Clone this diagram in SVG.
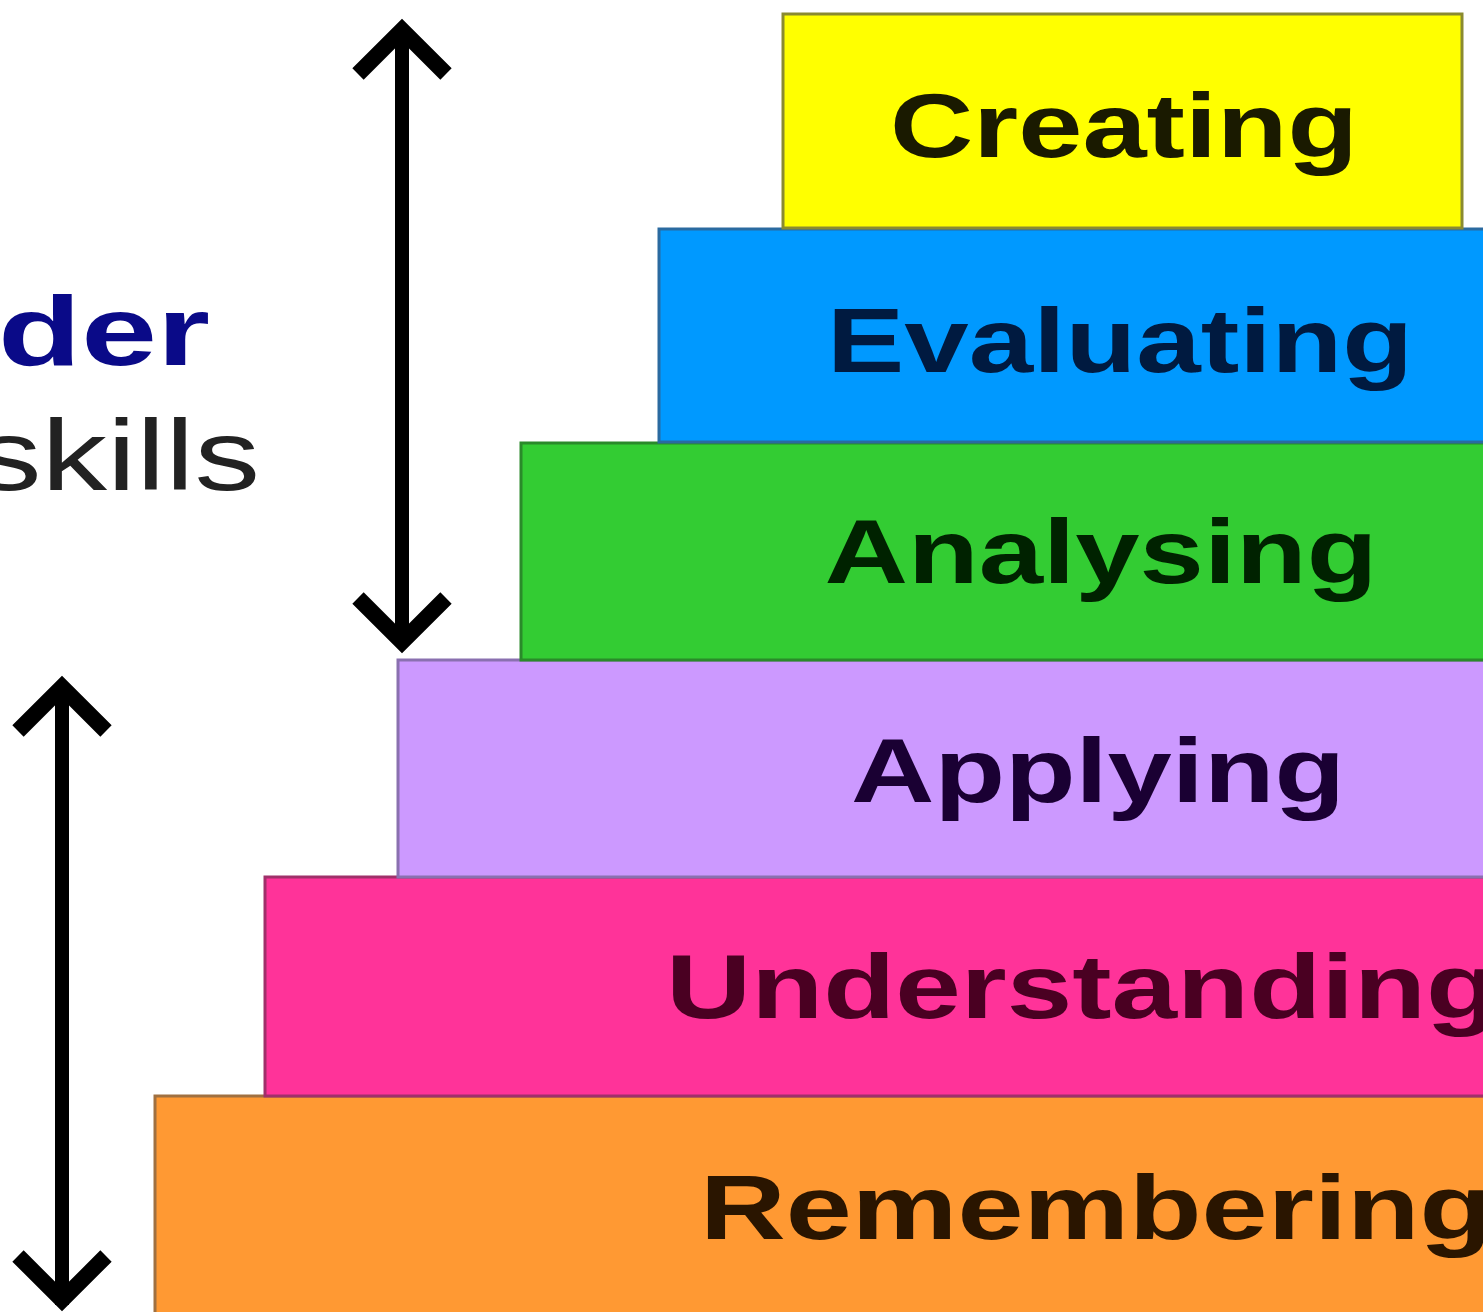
<svg xmlns="http://www.w3.org/2000/svg" width="1483" height="1312" viewBox="0 0 1483 1312">
  <style>
    .step { stroke-width: 3; }
    .lbl { font-family: "Liberation Sans", Arial, sans-serif; font-weight: bold; font-size: 91px; }
    .arrow { fill: none; stroke: #000; stroke-width: 14; }
    .head { fill: none; stroke: #000; stroke-width: 16; stroke-linejoin: miter; stroke-miterlimit: 10; }
  </style>
  <rect width="1483" height="1312" fill="#ffffff"/>
  <g id="side-text">
    <text x="-2" y="365" font-family="Liberation Sans, Arial, sans-serif" font-weight="bold" font-size="98" fill="#0a0a88" textLength="212" lengthAdjust="spacingAndGlyphs">der</text>
    <text x="-24" y="490" font-family="Liberation Sans, Arial, sans-serif" font-size="101" fill="#222222" textLength="284" lengthAdjust="spacingAndGlyphs">skills</text>
  </g>
  <g id="remembering">
    <rect class="step" x="155" y="1096" width="1340" height="230" fill="#FF9933" stroke="#a07040"/>
    <text class="lbl" x="700" y="1239" fill="#2a1500" textLength="792" lengthAdjust="spacingAndGlyphs">Remembering</text>
  </g>
  <g id="understanding">
    <rect class="step" x="265" y="877" width="1230" height="219" fill="#FF3399" stroke="#a0306a"/>
    <text class="lbl" x="666" y="1018" fill="#4a0022" textLength="832" lengthAdjust="spacingAndGlyphs">Understanding</text>
  </g>
  <g id="applying">
    <rect class="step" x="398" y="660" width="1097" height="217" fill="#CC99FF" stroke="#8a70b0"/>
    <text class="lbl" x="1098" y="802" text-anchor="middle" fill="#1a0033" textLength="494" lengthAdjust="spacingAndGlyphs">Applying</text>
  </g>
  <g id="analysing">
    <rect class="step" x="521" y="443" width="974" height="217" fill="#33CC33" stroke="#2a8a2a"/>
    <text class="lbl" x="1101" y="583" text-anchor="middle" fill="#002200" textLength="553" lengthAdjust="spacingAndGlyphs">Analysing</text>
  </g>
  <g id="evaluating">
    <rect class="step" x="659" y="229" width="836" height="213" fill="#0099FF" stroke="#2a6aa0"/>
    <text class="lbl" x="1120" y="372" text-anchor="middle" fill="#001a40" textLength="586" lengthAdjust="spacingAndGlyphs">Evaluating</text>
  </g>
  <g id="creating">
    <rect class="step" x="783" y="14" width="679" height="214" fill="#FFFF00" stroke="#8a8a30"/>
    <text class="lbl" x="1124" y="157" text-anchor="middle" fill="#1a1a00" textLength="468" lengthAdjust="spacingAndGlyphs">Creating</text>
  </g>
  <g id="connectors">
    <line class="arrow" x1="402" y1="32" x2="402" y2="645"/>
    <path class="head" d="M358,74 L402,30 L446,74"/>
    <path class="head" d="M358,598 L402,642 L446,598"/>
    <line class="arrow" x1="62" y1="688" x2="62" y2="1305"/>
    <path class="head" d="M18,731 L62,687 L106,731"/>
    <path class="head" d="M18,1256 L62,1300 L106,1256"/>
  </g>
</svg>
